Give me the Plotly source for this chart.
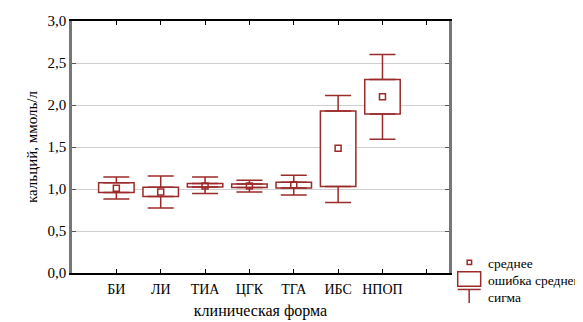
import plotly.graph_objects as go

categories = ["БИ", "ЛИ", "ТИА", "ЦГК", "ТГА", "ИБС", "НПОП"]
mean_vals = [1.008, 0.965, 1.037, 1.037, 1.052, 1.484, 2.099]
se_upper = [1.073, 1.020, 1.064, 1.060, 1.080, 1.929, 2.304]
se_lower = [0.957, 0.910, 1.025, 1.017, 1.013, 1.029, 1.893]
sd_upper = [1.144, 1.156, 1.144, 1.104, 1.163, 2.114, 2.602]
sd_lower = [0.882, 0.775, 0.945, 0.965, 0.930, 0.838, 1.591]

y_ticks = [0.0, 0.5, 1.0, 1.5, 2.0, 2.5, 3.0]
y_ticklabels = ["0,0", "0,5", "1,0", "1,5", "2,0", "2,5", "3,0"]

RED = "#9C2A2A"
FONT = "Liberation Serif"

xpos = list(range(1, len(categories) + 1))

fig = go.Figure()

# standard error boxes
fig.add_trace(go.Bar(
    x=xpos,
    base=se_lower,
    y=[u - l for u, l in zip(se_upper, se_lower)],
    width=0.8,
    marker=dict(color="white", line=dict(color=RED, width=1.5)),
    showlegend=False,
    hoverinfo="skip",
))

# upper whiskers (sigma)
fig.add_trace(go.Scatter(
    x=xpos, y=se_upper, mode="markers",
    marker=dict(size=1, color="rgba(0,0,0,0)"),
    error_y=dict(type="data", symmetric=False,
                 array=[s - u for s, u in zip(sd_upper, se_upper)],
                 arrayminus=[0] * len(xpos),
                 color=RED, thickness=1.5, width=13),
    showlegend=False, hoverinfo="skip",
))
# lower whiskers
fig.add_trace(go.Scatter(
    x=xpos, y=se_lower, mode="markers",
    marker=dict(size=1, color="rgba(0,0,0,0)"),
    error_y=dict(type="data", symmetric=False,
                 array=[0] * len(xpos),
                 arrayminus=[l - s for l, s in zip(se_lower, sd_lower)],
                 color=RED, thickness=1.5, width=13),
    showlegend=False, hoverinfo="skip",
))
# means
fig.add_trace(go.Scatter(
    x=xpos, y=mean_vals, mode="markers",
    marker=dict(symbol="square-open", size=6, color=RED, line=dict(width=1.5, color=RED)),
    showlegend=False, hoverinfo="skip",
))

# target plot area in window pixels; the page body adds an 8px offset
OFF = 8
L, R, T, B = 71.7, 449.0, 21.0, 273.5
W, H = R - L, B - T


def px(x):
    return (x - L) / W


def py(y):
    return (B - y) / H


shapes = [
    dict(type="rect", xref="paper", yref="paper", x0=px(467.2), x1=px(471.6), y0=py(265.0), y1=py(260.6),
         line=dict(color=RED, width=1.5), fillcolor="white"),
    dict(type="rect", xref="paper", yref="paper", x0=px(457.7), x1=px(480.7), y0=py(286.7), y1=py(272.3),
         line=dict(color=RED, width=1.5), fillcolor="white"),
    dict(type="line", xref="paper", yref="paper", x0=px(457.7), x1=px(480.7), y0=py(290.0), y1=py(290.0),
         line=dict(color=RED, width=1.5)),
    dict(type="line", xref="paper", yref="paper", x0=px(469.2), x1=px(469.2), y0=py(290.0), y1=py(303.5),
         line=dict(color=RED, width=1.5)),
]

legend_texts = ["среднее", "ошибка среднего", "сигма"]
legend_y = [264.0, 281.5, 298.5]
annotations = [
    dict(text=t, xref="paper", yref="paper", x=px(486.0), y=py(yy), xanchor="left", yanchor="middle",
         showarrow=False, font=dict(family=FONT, size=13.5, color="black"))
    for t, yy in zip(legend_texts, legend_y)
]

FW, FH = 583, 322
fig.update_layout(
    width=FW, height=FH,
    margin=dict(l=L - OFF, r=FW - (R - OFF), t=T - OFF, b=FH - (B - OFF), pad=0, autoexpand=False),
    paper_bgcolor="white", plot_bgcolor="white",
    barmode="overlay",
    font=dict(family=FONT, size=14, color="black"),
    shapes=shapes,
    annotations=annotations,
    showlegend=False,
    xaxis=dict(
        range=[0, 8.5],
        tickmode="array", tickvals=xpos + [8], ticktext=categories + [""],
        ticks="inside", ticklen=4, tickcolor="black", tickwidth=1,
        showline=True, linecolor="black", linewidth=1.5, mirror="ticks",
        showgrid=False, zeroline=False, ticklabelstandoff=2,
        title=dict(text="клиническая форма", standoff=9, font=dict(family=FONT, size=16)),
        tickfont=dict(family=FONT, size=14),
    ),
    yaxis=dict(
        range=[0, 3.0],
        tickmode="array", tickvals=y_ticks, ticktext=y_ticklabels,
        ticks="inside", ticklen=4, tickcolor="#555", tickwidth=1,
        showline=True, linecolor="#777", linewidth=2.5, mirror="ticks",
        showgrid=True, gridcolor="#d0d0d0", gridwidth=1, zeroline=False,
        title=dict(text="кальций, ммоль/л", standoff=7, font=dict(family=FONT, size=15)),
        tickfont=dict(family=FONT, size=15),
    ),
)

fig.write_html("out.html")
